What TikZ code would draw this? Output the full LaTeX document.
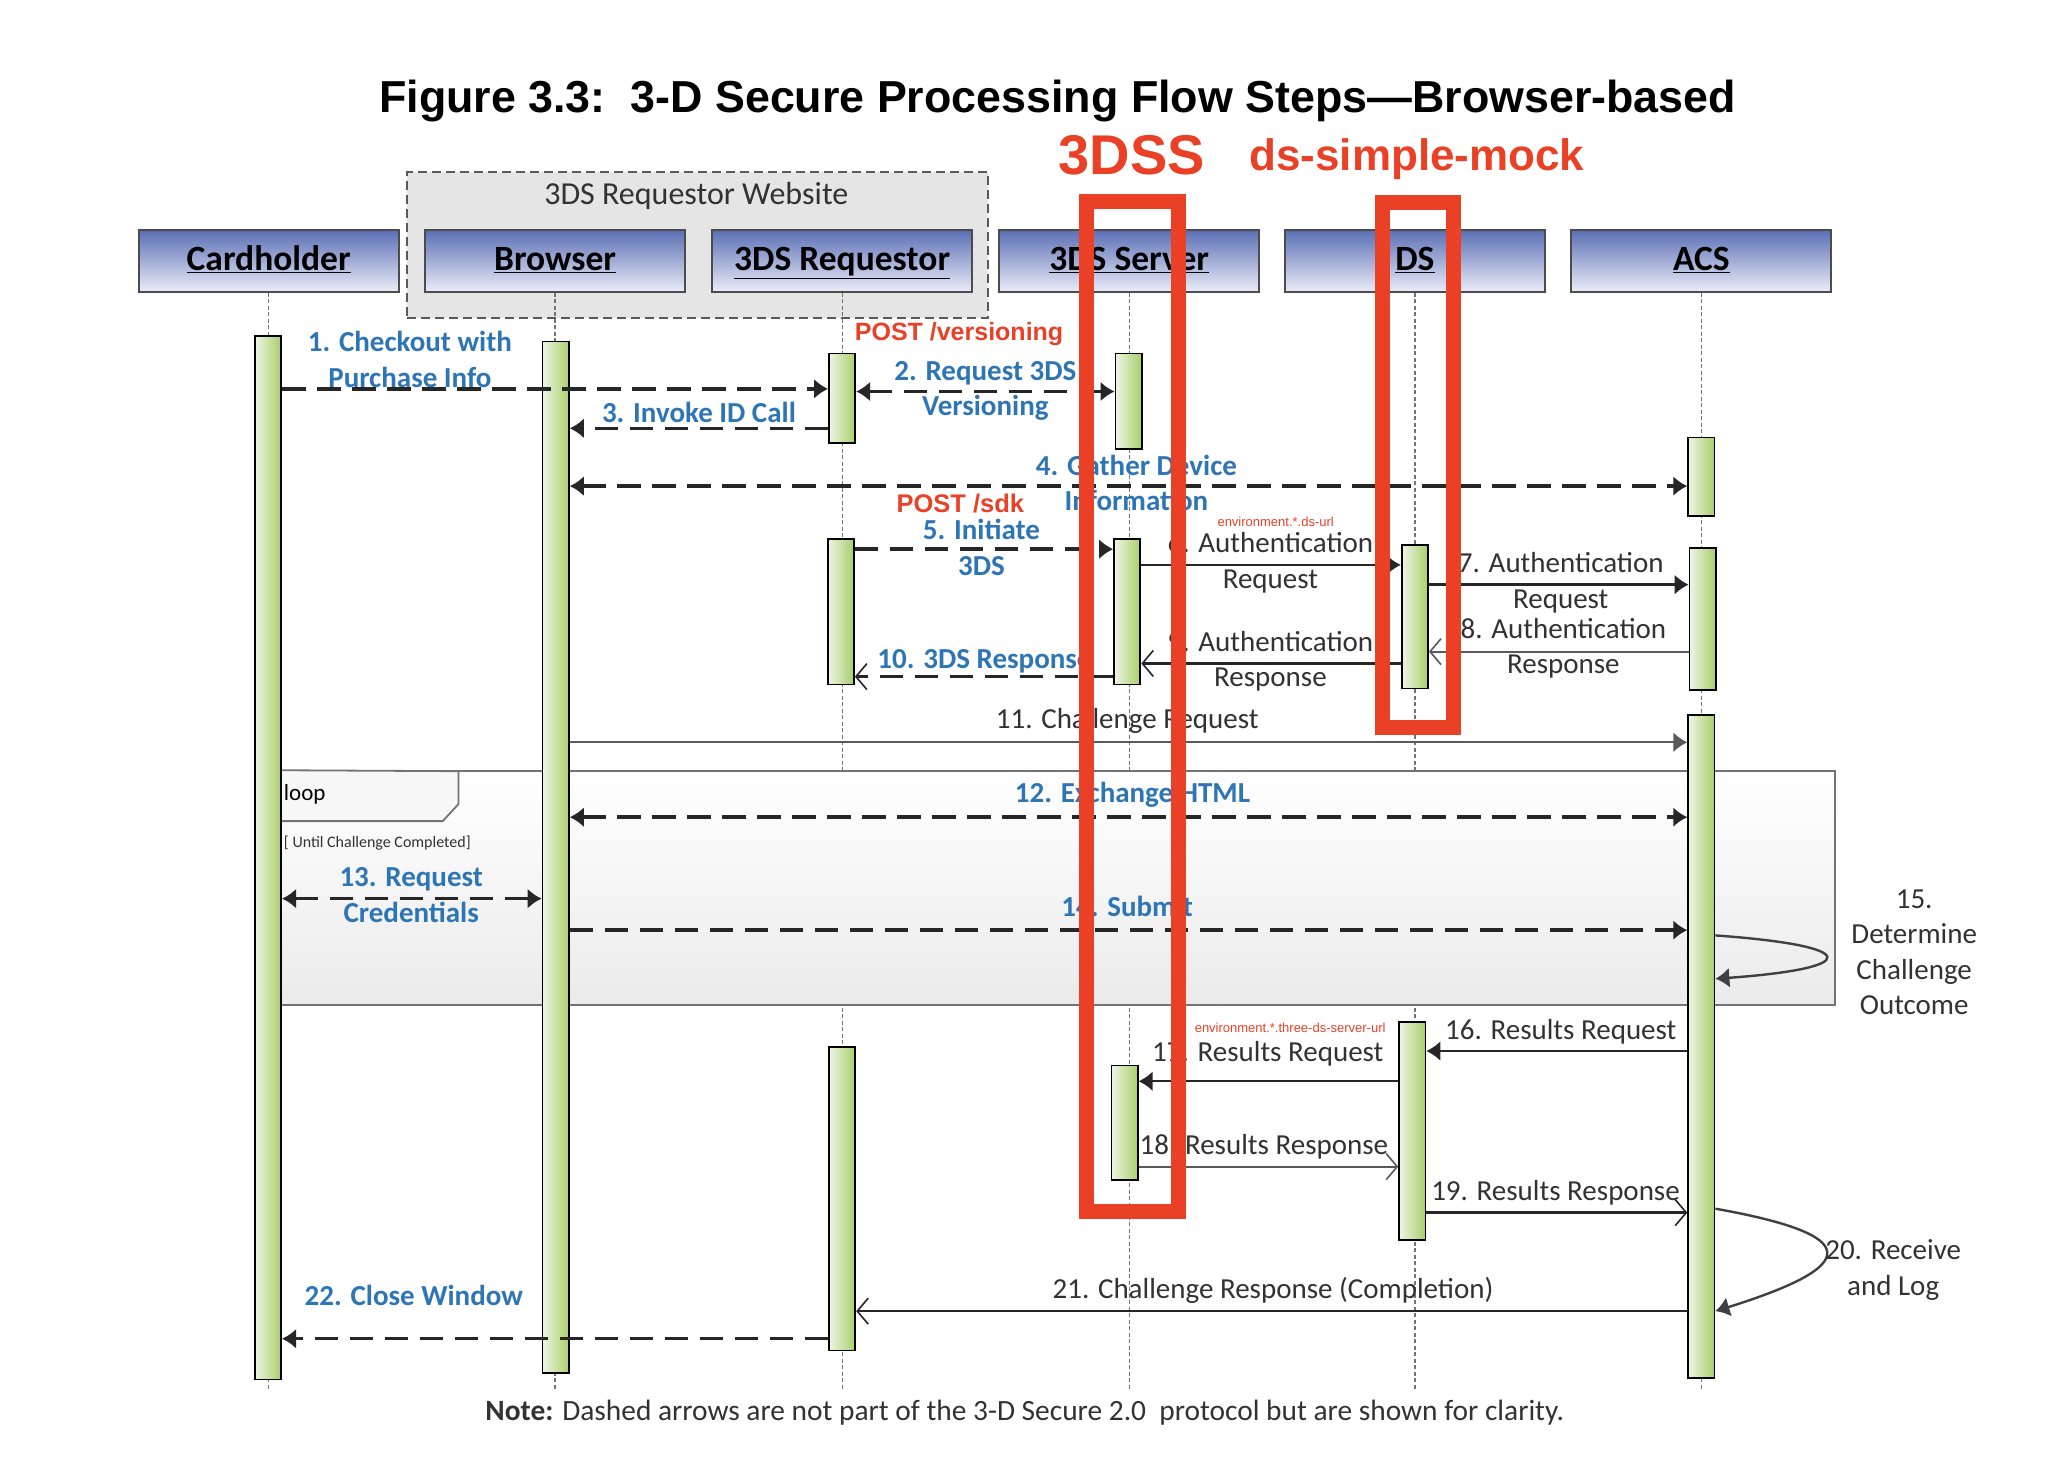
\documentclass[tikz,border=0pt]{standalone}
\usepackage{fontspec}
\setmainfont{Carlito}
\newfontfamily\arialf{Liberation Sans}
\usetikzlibrary{arrows.meta,fit}
\definecolor{lblblue}{RGB}{46,117,182}
\definecolor{redmark}{RGB}{233,64,38}
\definecolor{txtgray}{RGB}{50,50,50}
\definecolor{boxtop}{RGB}{90,110,180}
\definecolor{boxbot}{RGB}{234,236,248}
\definecolor{barleft}{RGB}{238,244,230}
\definecolor{barright}{RGB}{168,207,105}
\definecolor{grpfill}{RGB}{229,229,229}
\newcommand{\lblsize}{\fontsize{29pt}{35.5pt}\selectfont}
\newcommand{\partsize}{\fontsize{35.5pt}{40pt}\selectfont}
\begin{document}
\begin{tikzpicture}[x=1.3138pt,y=-1.3138pt,
  partbox/.style={draw=black!70,line width=2pt,top color=boxtop,bottom color=boxbot,
     minimum width=260pt,minimum height=62pt,inner sep=0pt,font=\partsize\bfseries,text=black,
     text height=25pt,text depth=5pt},
  actbar/.style={draw=black,line width=1.8pt,left color=barleft,right color=barright,inner sep=0pt},
  lifeline/.style={draw=black!55,line width=1.2pt,dash pattern=on 4pt off 2.5pt},
  bluelbl/.style={font=\lblsize\bfseries,text=lblblue,align=center,inner sep=0pt},
  blklbl/.style={font=\lblsize,text=txtgray,align=center,inner sep=0pt},
  redlbl/.style={font=\arialf\bfseries,text=redmark,inner sep=0pt},
  dasharr/.style={draw=black!85,line width=3.4pt,dash pattern=on 23.5pt off 11.5pt},
  solidarr/.style={draw=black!85,line width=2.4pt},
  resparr/.style={draw=black!65,line width=2.2pt},
  fhead/.style={-{Latex[length=14pt,width=20pt]}},
  fboth/.style={{Latex[length=14pt,width=20pt]}-{Latex[length=14pt,width=20pt]}},
  ohead/.style={-{Straight Barb[length=11pt,width=26pt,line width=1.6pt]}},
  redbox/.style={draw=redmark,line width=15pt,inner sep=0pt},
]
\path[use as bounding box,fill=white] (0,0) rectangle (1568,1123);
% title
\node[font=\arialf\bfseries\fontsize{44.8pt}{50pt}\selectfont,inner sep=0pt,anchor=base] (title) at (805,86) {Figure 3.3:\ \ 3-D Secure Processing Flow Steps—Browser-based};
% requestor website group
\node[fit={(310,131)(752,242)},inner sep=0pt,fill=grpfill,draw=black!65,line width=2.2pt,dash pattern=on 9pt off 5pt] (grp) {};
\node[font=\fontsize{32pt}{36pt}\selectfont,text=txtgray,inner sep=0pt] (grplbl) at (530,149) {3DS Requestor Website};
% participants
\node[partbox] (pch) at (204.5,198.5) {\underline{Cardholder}};
\node[partbox] (pbr) at (422.5,198.5) {\underline{Browser}};
\node[partbox] (prq) at (641,198.5) {\underline{3DS Requestor}};
\node[partbox] (psv) at (859.5,198.5) {\underline{3DS Server}};
\node[partbox] (pds) at (1077,198.5) {\underline{DS}};
\node[partbox] (pac) at (1295,198.5) {\underline{ACS}};
\coordinate (lend) at (0,1058);
\foreach \p in {pch,pbr,prq,psv,pds,pac} \draw[lifeline] (\p.south) -- (\p.south |- lend);
% loop frame
\node[fit={(207,587)(1397,765)},inner sep=0pt,top color=white,bottom color=black!8,draw=black!55,line width=2pt] (loopf) {};
\draw[fill=black!3,draw=black!55,line width=1.8pt] (loopf.north west) -- (349,587) -- (349,612) -- (337,625) -- (207,625) -- cycle;
\node[anchor=west,font=\fontsize{23pt}{26pt}\selectfont,text=black,inner sep=0pt] (looplbl) at (216,605) {loop};
\node[anchor=west,font=\fontsize{16pt}{18pt}\selectfont,text=txtgray,inner sep=0pt] (loopcond) at (216,642) {[ Until Challenge Completed]};
% activation bars
\node[actbar,fit={(194,256)(214,1050)}] (bch) {};
\node[actbar,fit={(413,260)(433,1045)}] (bbr) {};
\node[actbar,fit={(631,269)(651,337)}] (brq1) {};
\node[actbar,fit={(630,410)(650,521)}] (brq2) {};
\node[actbar,fit={(631,797)(651,1028)}] (brq3) {};
\node[actbar,fit={(849,269)(869,342)}] (bsv1) {};
\node[actbar,fit={(848,410)(868,521)}] (bsv2) {};
\node[actbar,fit={(846,811)(866,898)}] (bsv3) {};
\node[actbar,fit={(1067,415)(1087,524)}] (bds1) {};
\node[actbar,fit={(1065,778)(1085,944)}] (bds2) {};
\node[actbar,fit={(1285,333)(1305,393)}] (bac1) {};
\node[actbar,fit={(1286,417)(1306,525)}] (bac2) {};
\node[actbar,fit={(1285,544)(1305,1049)}] (bac3) {};
% message levels
\coordinate (m1) at (0,296);
\coordinate (m2) at (0,298);
\coordinate (m3) at (0,326);
\coordinate (m4) at (0,370);
\coordinate (m5) at (0,418);
\coordinate (m6) at (0,430);
\coordinate (m7) at (0,445);
\coordinate (m8) at (0,496);
\coordinate (m9) at (0,505);
\coordinate (m10) at (0,515);
\coordinate (m11) at (0,565);
\coordinate (m12) at (0,622);
\coordinate (m13) at (0,684);
\coordinate (m14) at (0,708);
\coordinate (m15a) at (0,712);
\coordinate (m15b) at (0,745);
\coordinate (m16) at (0,800);
\coordinate (m17) at (0,823);
\coordinate (m18) at (0,888);
\coordinate (m19) at (0,923);
\coordinate (m20a) at (0,920);
\coordinate (m20b) at (0,998);
\coordinate (m21) at (0,998);
\coordinate (m22) at (0,1019);
% arrows
\draw[dasharr,fhead] (bch.east |- m1) -- (brq1.west |- m1);
\draw[dasharr,fboth] (brq1.east |- m2) -- (bsv1.west |- m2);
\draw[dasharr,fhead] (brq1.west |- m3) -- (bbr.east |- m3);
\draw[dasharr,fboth] (bbr.east |- m4) -- (bac1.west |- m4);
\draw[dasharr,fhead] (brq2.east |- m5) -- (bsv2.west |- m5);
\draw[solidarr,fhead] (bsv2.east |- m6) -- (bds1.west |- m6);
\draw[solidarr,fhead] (bds1.east |- m7) -- (bac2.west |- m7);
\draw[resparr,ohead] (bac2.west |- m8) -- (bds1.east |- m8);
\draw[solidarr,ohead] (bds1.west |- m9) -- (bsv2.east |- m9);
\draw[dasharr,ohead] (bsv2.west |- m10) -- (brq2.east |- m10);
\draw[resparr,fhead] (bbr.east |- m11) -- (bac3.west |- m11);
\draw[dasharr,fboth] (bbr.east |- m12) -- (bac3.west |- m12);
\draw[dasharr,fboth] (bch.east |- m13) -- (bbr.west |- m13);
\draw[dasharr,fhead] (bbr.east |- m14) -- (bac3.west |- m14);
\draw[solidarr,fhead,draw=black!75] (bac3.east |- m15a) .. controls +(112,8) and +(112,-8) .. (bac3.east |- m15b);
\draw[solidarr,fhead] (bac3.west |- m16) -- (bds2.east |- m16);
\draw[solidarr,fhead] (bds2.west |- m17) -- (bsv3.east |- m17);
\draw[resparr,ohead] (bsv3.east |- m18) -- (bds2.west |- m18);
\draw[solidarr,ohead] (bds2.east |- m19) -- (bac3.west |- m19);
\draw[solidarr,fhead,draw=black!75] (bac3.east |- m20a) .. controls +(112,20) and +(112,-35) .. (bac3.east |- m20b);
\draw[solidarr,ohead] (bac3.west |- m21) -- (brq3.east |- m21);
\draw[dasharr,fhead] (brq3.west |- m22) -- (bch.east |- m22);
% labels
\node[bluelbl] (l1) at (312,273.5) {1. Checkout with\\Purchase Info};
\node[bluelbl] (l2) at (750,297.5) {2. Request 3DS\\Versioning};
\node[bluelbl] (l3) at (532,314) {3. Invoke ID Call};
\node[bluelbl] (l4) at (865,367.5) {4. Gather Device\\Information};
\node[bluelbl] (l5) at (747,416.5) {5. Initiate\\3DS};
\node[blklbl] (l6) at (967,428.5) {6. Authentication\\Request};
\node[blklbl] (l7) at (1188,443.5) {7. Authentication\\Request};
\node[blklbl] (l8) at (1190,493.5) {8. Authentication\\Response};
\node[blklbl] (l9) at (967,503.5) {9. Authentication\\Response};
\node[bluelbl,anchor=east] (l10) at (831,503) {10. 3DS Response};
\node[blklbl] (l11) at (858,549) {11. Challenge Request};
\node[bluelbl] (l12) at (862,605) {12. Exchange HTML};
\node[bluelbl] (l13) at (313,681.5) {13. Request\\Credentials};
\node[bluelbl] (l14) at (858,690) {14. Submit};
\node[blklbl] (l15) at (1457,725) {15.\\Determine\\Challenge\\Outcome};
\node[blklbl] (l16) at (1188,785) {16. Results Request};
\node[blklbl] (l17) at (965,802) {17. Results Request};
\node[blklbl] (l18) at (962,873) {18. Results Response};
\node[blklbl] (l19) at (1184,908) {19. Results Response};
\node[blklbl] (l20) at (1441,966.5) {20. Receive\\and Log};
\node[blklbl] (l21) at (969,982) {21. Challenge Response (Completion)};
\node[bluelbl] (l22) at (315,986) {22. Close Window};
\node[font=\fontsize{29.4pt}{32pt}\selectfont,text=txtgray,inner sep=0pt] (note) at (780,1075) {\textbf{Note:} Dashed arrows are not part of the 3-D Secure 2.0\ \ protocol but are shown for clarity.};
% red annotations
\node[redbox,fit={(827,153)(897,922)}] (rb3dss) {};
\node[redbox,fit={(1052,154)(1106,554)}] (rbds) {};
\node[redlbl,font=\arialf\bfseries\fontsize{56pt}{60pt}\selectfont,anchor=base] (t3dss) at (861.5,133) {3DSS};
\node[redlbl,font=\arialf\bfseries\fontsize{44pt}{48pt}\selectfont,anchor=base] (tmock) at (1078.5,129.5) {ds-simple-mock};
\node[redlbl,font=\arialf\bfseries\fontsize{25pt}{28pt}\selectfont] (tpv) at (730,254) {POST /versioning};
\node[redlbl,font=\arialf\bfseries\fontsize{25.5pt}{28pt}\selectfont] (tps) at (731,383) {POST /sdk};
\node[redlbl,font=\arialf\fontsize{13pt}{15pt}\selectfont] (tenv1) at (971,397) {environment.*.ds-url};
\node[redlbl,font=\arialf\fontsize{13pt}{15pt}\selectfont] (tenv2) at (982,782) {environment.*.three-ds-server-url};
\end{tikzpicture}
\end{document}
